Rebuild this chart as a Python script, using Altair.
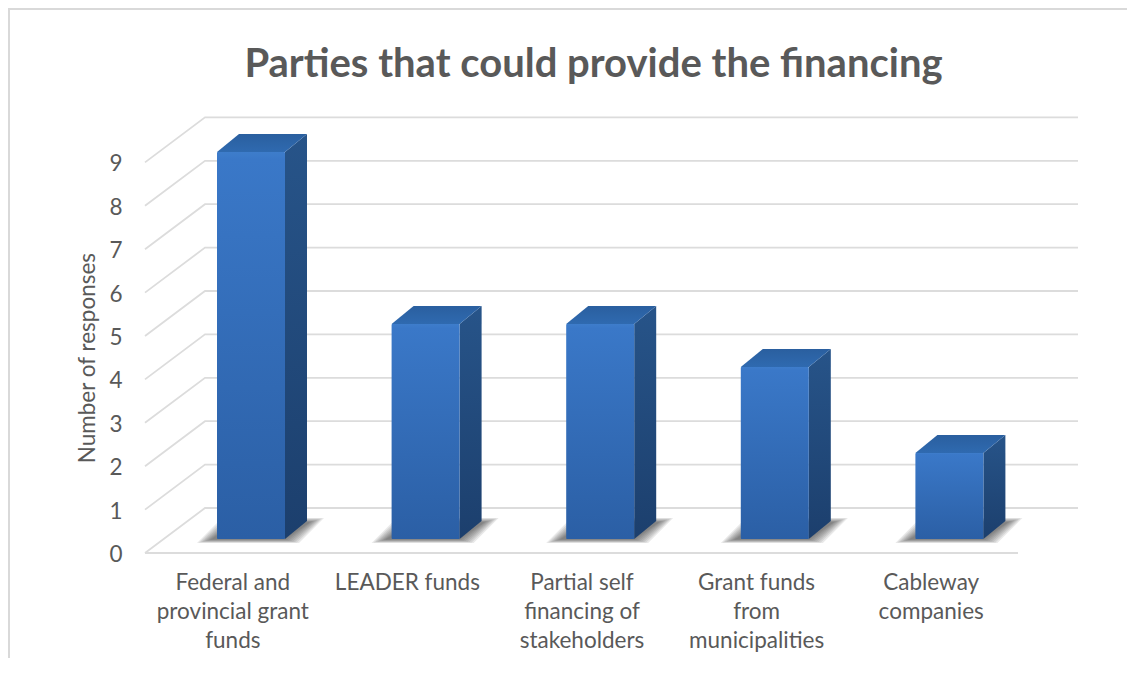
import altair as alt
import pandas as pd

categories = [
    "Federal and\nprovincial grant\nfunds",
    "LEADER funds",
    "Partial self\nfinancing of\nstakeholders",
    "Grant funds\nfrom\nmunicipalities",
    "Cableway\ncompanies",
]
values = [9, 5, 5, 4, 2]
ticks = list(range(10))

FONT = "Lato"
TEXT = "#595959"
GRID = "#dcdcdc"

# projection of the 3-D box onto the page (category units / value units)
CAT = 174.6
UNIT = 43.4
WALL_X = 60 / CAT
WALL_Y = 45 / UNIT
BAR_L = (217 - 145) / CAT - 0.0
BAR_W = 68 / CAT
SIDE_X = 22 / CAT
SIDE_Y = 18 / UNIT
BASE = 14 / UNIT
BAR_SCALE = 43.0 / UNIT
W = CAT * 5 + 60
H = UNIT * 11


def box(xl, xr, lo, hi, dx, **extra):
    """Parallelogram lying back in depth, as area rows."""
    return [
        dict(x=xl, y=lo, y2=lo, **extra),
        dict(x=xl + dx, y=hi, y2=lo, **extra),
        dict(x=xr, y=hi, y2=lo, **extra),
        dict(x=xr + dx, y=hi, y2=hi, **extra),
    ]


grid_rows = []
for v in ticks:
    grid_rows += [
        dict(x=0, y=v, g=v),
        dict(x=WALL_X, y=v + WALL_Y, g=v),
        dict(x=5 + WALL_X, y=v + WALL_Y, g=v),
    ]
grid_rows += [dict(x=0, y=0, g=-1), dict(x=5, y=0, g=-1)]

front, side, top, shadow = [], [], [], []
for i, v in enumerate(values):
    xl = i + BAR_L
    xr = xl + BAR_W
    peak = BASE + v * BAR_SCALE
    front.append(dict(x=xl, x2=xr, y=BASE, y2=peak))
    side += [
        dict(x=xr, y=peak, y2=BASE, b=i),
        dict(x=xr + SIDE_X, y=peak + SIDE_Y, y2=BASE + SIDE_Y, b=i),
    ]
    top += box(xl, xr, peak, peak + SIDE_Y, SIDE_X, b=i)
    for k, e in enumerate([0, 2, 4, 6, 8, 10, 12, 14]):
        shadow += box(
            xl + (e - 20) / CAT,
            xr + (14 - e) / CAT,
            (10 + e * 0.25) / UNIT,
            (35 - e * 0.3) / UNIT,
            25 / CAT,
            b=f"{i}-{k}",
        )

xs = alt.X("x:Q", scale=alt.Scale(domain=[0, 5 + WALL_X], nice=False, zero=False),
           axis=alt.Axis(
               values=[i + 0.5 for i in range(5)],
               labelExpr="split(" + str([c.replace("\n", "|") for c in categories])
                         + "[round(datum.value - 0.5)], '|')",
               title=None, domain=False, ticks=False, grid=False,
               labelFont=FONT, labelFontSize=22.5, labelColor=TEXT,
               labelPadding=18, labelLineHeight=29, labelOverlap=False,
               labelBound=False, labelFlush=False, labelLimit=400,
               labelBaseline="top",
           ))
ys = alt.Y("y:Q", scale=alt.Scale(domain=[0, 11], nice=False, zero=False),
           axis=alt.Axis(
               values=ticks, title="Number of responses", domain=False, ticks=False,
               grid=False, labelFont=FONT, labelFontSize=22.5, labelColor=TEXT,
               labelPadding=23, labelOffset=1.5, format="d",
               titleFont=FONT, titleFontSize=22.5, titleFontWeight="normal",
               titleColor=TEXT, titleX=-46, titleY=282,
           ))
y2 = alt.Y2("y2:Q")

grad = lambda a, b, c=None: alt.Gradient(
    gradient="linear",
    stops=[alt.GradientStop(color=a, offset=0)]
    + ([alt.GradientStop(color=c, offset=0.02)] if c else [])
    + [alt.GradientStop(color=b, offset=1)],
    x1=0, x2=0, y1=0, y2=1,
)

grid = alt.Chart(pd.DataFrame(grid_rows)).mark_line(color=GRID, strokeWidth=1.8).encode(
    x=xs, y=ys, detail="g:N", order=alt.Order("x:Q"))
shade = alt.Chart(pd.DataFrame(shadow)).mark_area(color="#333333", opacity=0.11, line=False).encode(
    x=alt.X("x:Q"), y=alt.Y("y:Q"), y2=y2, detail="b:N")
sides = alt.Chart(pd.DataFrame(side)).mark_area(color=grad("#275489", "#1c3f6d")).encode(
    x=alt.X("x:Q"), y=alt.Y("y:Q"), y2=y2, detail="b:N")
tops = alt.Chart(pd.DataFrame(top)).mark_area(color=grad("#2a5f9f", "#2f6ab0")).encode(
    x=alt.X("x:Q"), y=alt.Y("y:Q"), y2=y2, detail="b:N")
fronts = alt.Chart(pd.DataFrame(front)).mark_rect(
    color=grad("#3e7dcb", "#2b5fa5", "#3a78c8"), cornerRadius=1).encode(
    x=alt.X("x:Q"), x2=alt.X2("x2:Q"), y=alt.Y("y:Q"), y2=y2)

frame_top = alt.Chart(pd.DataFrame({"y": [0]})).mark_rule(color="#d9d9d9", strokeWidth=2).encode(
    x=alt.value(-137), x2=alt.value(W + 60), y=alt.value(-66.6))
frame_left = alt.Chart(pd.DataFrame({"y": [0]})).mark_rule(color="#d9d9d9", strokeWidth=2).encode(
    x=alt.value(-136), y=alt.value(-68), y2=alt.value(H + 120))

chart = (
    alt.layer(frame_top, frame_left, grid, shade, sides, tops, fronts)
    .properties(
        width=W,
        height=H,
        padding={"left": 137, "top": 67.6, "right": 49, "bottom": 105},
        autosize=alt.AutoSizeParams(type="none"),
        background="white",
        title=alt.TitleParams(
            "Parties that could provide the financing",
            font=FONT, fontSize=40, fontWeight="bold", color=TEXT,
            anchor="middle", frame="group", dx=-18, dy=75, offset=-3,
        ),
    )
    .configure_view(stroke=None)
)

chart.save("out.html", embed_options={"renderer": "svg", "actions": False})
